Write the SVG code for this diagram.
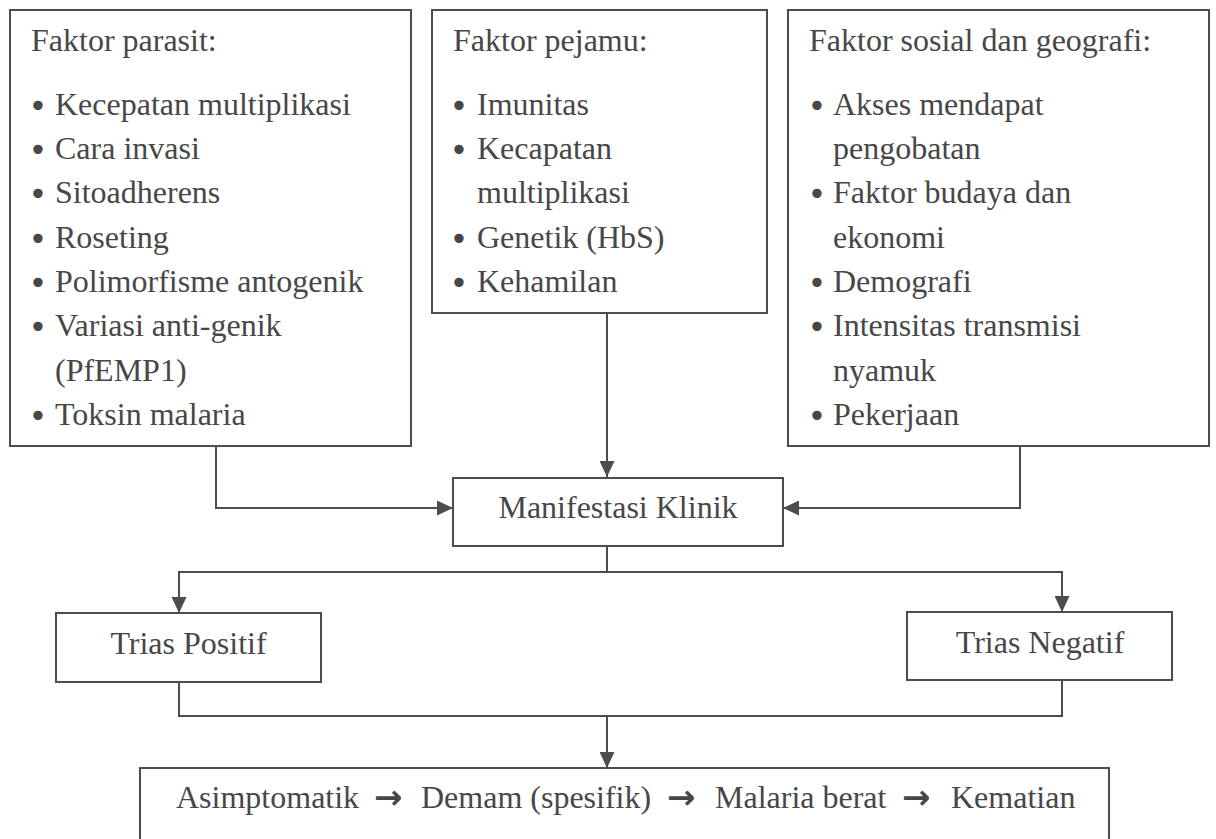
<svg xmlns="http://www.w3.org/2000/svg" width="1216" height="839" viewBox="0 0 1216 839">
<style>
  .box { fill: #ffffff; stroke: #4d4d4d; stroke-width: 2; }
  .t { font-family: "Liberation Serif", "Times New Roman", serif; font-size: 32px; fill: #474747; }
  .c { text-anchor: middle; }
  .b { font-family: "DejaVu Sans", sans-serif; font-size: 32px; fill: #474747; text-anchor: middle; }
  .arr { font-family: "DejaVu Sans", sans-serif; font-size: 34px; font-weight: bold; fill: #474747; }
  .conn { fill: none; stroke: #4d4d4d; stroke-width: 2; }
</style>
<defs>
  <marker id="ah" viewBox="0 0 16 15" refX="16" refY="7.5" markerWidth="16" markerHeight="15" orient="auto" markerUnits="userSpaceOnUse">
    <path d="M0,0 L16,7.5 L0,15 Z" fill="#4d4d4d"/>
  </marker>
</defs>
<rect width="1216" height="839" fill="#ffffff"/>

<g id="connectors">
  <polyline class="conn" points="216,446 216,508 453,508" marker-end="url(#ah)"/>
  <line class="conn" x1="607" y1="313" x2="607" y2="477" marker-end="url(#ah)"/>
  <polyline class="conn" points="1020,446 1020,508 783,508" marker-end="url(#ah)"/>
  <line class="conn" x1="607" y1="546" x2="607" y2="572"/>
  <line class="conn" x1="178" y1="572" x2="1063" y2="572"/>
  <line class="conn" x1="179" y1="572" x2="179" y2="613" marker-end="url(#ah)"/>
  <line class="conn" x1="1062" y1="572" x2="1062" y2="612" marker-end="url(#ah)"/>
  <polyline class="conn" points="179,682 179,716 1062,716 1062,680"/>
  <line class="conn" x1="607" y1="716" x2="607" y2="768" marker-end="url(#ah)"/>
</g>

<g id="faktor-parasit">
  <rect class="box" x="10" y="10" width="401" height="436"/>
  <text class="t" x="31" y="51">Faktor parasit:</text>
  <text class="b" x="38" y="117">•</text><text class="t" x="55" y="115">Kecepatan multiplikasi</text>
  <text class="b" x="38" y="161">•</text><text class="t" x="55" y="159">Cara invasi</text>
  <text class="b" x="38" y="205">•</text><text class="t" x="55" y="203">Sitoadherens</text>
  <text class="b" x="38" y="250">•</text><text class="t" x="55" y="248">Roseting</text>
  <text class="b" x="38" y="294">•</text><text class="t" x="55" y="292">Polimorfisme antogenik</text>
  <text class="b" x="38" y="338">•</text><text class="t" x="55" y="336">Variasi anti-genik</text>
  <text class="t" x="55" y="381">(PfEMP1)</text>
  <text class="b" x="38" y="427">•</text><text class="t" x="55" y="425">Toksin malaria</text>
</g>

<g id="faktor-pejamu">
  <rect class="box" x="432" y="10" width="335" height="303"/>
  <text class="t" x="453" y="51">Faktor pejamu:</text>
  <text class="b" x="459" y="117">•</text><text class="t" x="477" y="115">Imunitas</text>
  <text class="b" x="459" y="161">•</text><text class="t" x="477" y="159">Kecapatan</text>
  <text class="t" x="477" y="203">multiplikasi</text>
  <text class="b" x="459" y="250">•</text><text class="t" x="477" y="248">Genetik (HbS)</text>
  <text class="b" x="459" y="294">•</text><text class="t" x="477" y="292">Kehamilan</text>
</g>

<g id="faktor-sosial">
  <rect class="box" x="788" y="10" width="421" height="436"/>
  <text class="t" x="809" y="51">Faktor sosial dan geografi:</text>
  <text class="b" x="817" y="117">•</text><text class="t" x="833" y="115">Akses mendapat</text>
  <text class="t" x="833" y="159">pengobatan</text>
  <text class="b" x="817" y="205">•</text><text class="t" x="833" y="203">Faktor budaya dan</text>
  <text class="t" x="833" y="248">ekonomi</text>
  <text class="b" x="817" y="294">•</text><text class="t" x="833" y="292">Demografi</text>
  <text class="b" x="817" y="338">•</text><text class="t" x="833" y="336">Intensitas transmisi</text>
  <text class="t" x="833" y="381">nyamuk</text>
  <text class="b" x="817" y="427">•</text><text class="t" x="833" y="425">Pekerjaan</text>
</g>

<g id="manifestasi-klinik">
  <rect class="box" x="453" y="478" width="330" height="68"/>
  <text class="t c" x="618" y="518">Manifestasi Klinik</text>
</g>

<g id="trias-positif">
  <rect class="box" x="56" y="613" width="265" height="69"/>
  <text class="t c" x="188.5" y="654">Trias Positif</text>
</g>

<g id="trias-negatif">
  <rect class="box" x="907" y="612" width="265" height="68"/>
  <text class="t c" x="1040" y="653">Trias Negatif</text>
</g>

<g id="outcome">
  <rect class="box" x="140" y="768" width="969" height="100"/>
  <text class="t" x="176" y="808">Asimptomatik</text>
  <text class="arr" x="374" y="809">→</text>
  <text class="t" x="421" y="808">Demam (spesifik)</text>
  <text class="arr" x="667" y="809">→</text>
  <text class="t" x="715" y="808">Malaria berat</text>
  <text class="arr" x="902" y="809">→</text>
  <text class="t" x="951" y="808">Kematian</text>
</g>
</svg>
